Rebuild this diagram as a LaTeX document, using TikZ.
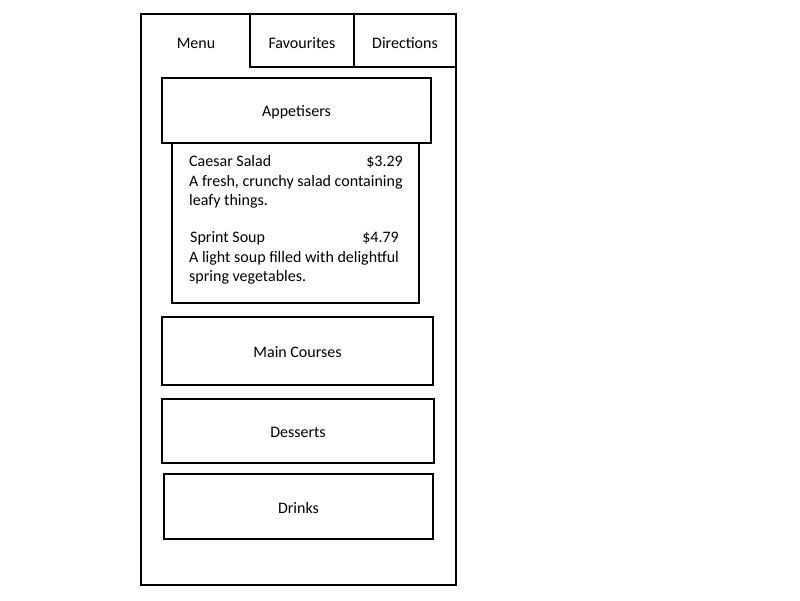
\documentclass[tikz,border=0pt]{standalone}
\usepackage{fontspec}
\setmainfont{Carlito}
\begin{document}
\begin{tikzpicture}[x=1pt,y=-1pt,
  box/.style={draw=black,line width=2pt,fill=white,outer sep=0pt},
  lbl/.style={font=\fontsize{16}{19}\selectfont,inner sep=0pt},
  txt/.style={font=\fontsize{16}{19}\selectfont,inner sep=0pt,yshift=-1.5pt},
  itm/.style={font=\fontsize{16}{19.5}\selectfont,inner sep=0pt,anchor=base west},
  prc/.style={font=\fontsize{16}{19.5}\selectfont,inner sep=0pt,anchor=base east}]
\useasboundingbox (0,0) rectangle (800,600);
\fill[white] (0,0) rectangle (800,600);
% outer frame
\draw[box] (141,14) rectangle (456,585);
% tabs
\draw[line width=2pt] (250,14) -- (250,67) -- (456,67);
\draw[line width=2pt] (354,14) -- (354,67);
\node[txt] (menu) at (196,42) {Menu};
\node[txt] (fav) at (302,42) {Favourites};
\node[txt] (dir) at (405,42) {Directions};
% appetisers details
\draw[box] (172,130) rectangle (419,303);
\node[box,minimum width=269pt,minimum height=65pt,anchor=north west] (app) at (162,78) {};
\node[txt] at (app.center) {Appetisers};
\node[itm] (cs) at (189,166) {Caesar Salad};
\node[prc] (csp) at (403,166) {\$3.29};
\node[itm] (csd1) at (189,186) {A fresh, crunchy salad containing};
\node[itm] (csd2) at (189,205) {leafy things.};
\node[itm] (ss) at (190,242) {Sprint Soup};
\node[prc] (ssp) at (399,242) {\$4.79};
\node[itm] (ssd1) at (189,262) {A light soup filled with delightful};
\node[itm] (ssd2) at (189,281) {spring vegetables.};
% other sections
\node[box,minimum width=271pt,minimum height=68pt,anchor=north west] (main) at (162,317) {};
\node[txt] at (main.center) {Main Courses};
\node[box,minimum width=272pt,minimum height=64pt,anchor=north west] (des) at (162,399) {};
\node[txt] at (des.center) {Desserts};
\node[box,minimum width=269pt,minimum height=65pt,anchor=north west] (dri) at (164,474) {};
\node[txt] at (dri.center) {Drinks};
\end{tikzpicture}
\end{document}
